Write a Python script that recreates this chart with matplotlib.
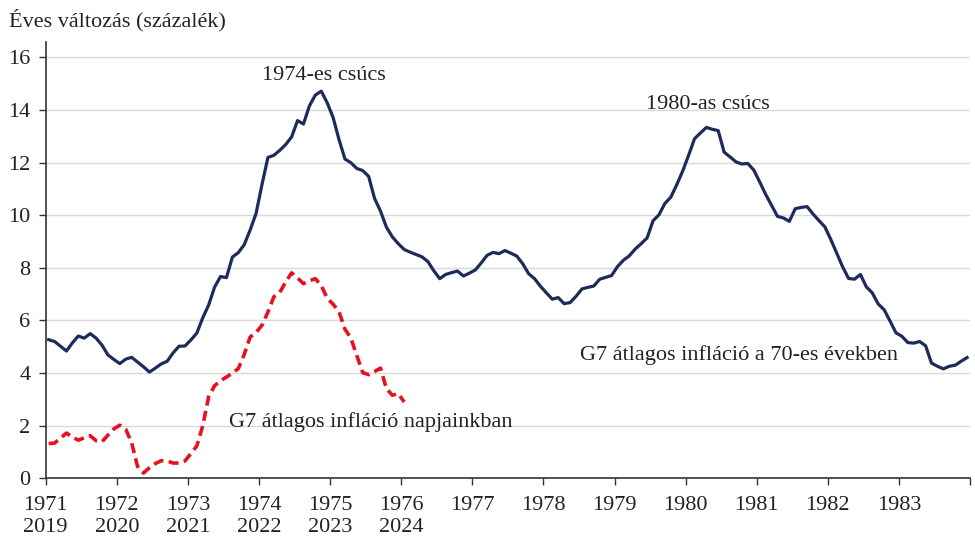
import numpy as np
import matplotlib
matplotlib.use("Agg")
import matplotlib.pyplot as plt

# ---- data (monthly, annual % change) ----
g7_70s = [5.27, 5.20, 5.02, 4.84, 5.15, 5.41, 5.33, 5.50, 5.33, 5.06, 4.69, 4.52,
          4.36, 4.53, 4.60, 4.42, 4.24, 4.04, 4.19, 4.35, 4.45, 4.77, 5.02, 5.03,
          5.26, 5.52, 6.10, 6.59, 7.27, 7.67, 7.63, 8.41, 8.58, 8.88, 9.44, 10.07,
          11.17, 12.20, 12.28, 12.47, 12.69, 12.98, 13.60, 13.47, 14.16, 14.57, 14.72, 14.28,
          13.72, 12.88, 12.14, 12.00, 11.78, 11.70, 11.48, 10.64, 10.16, 9.55, 9.18, 8.92,
          8.70, 8.60, 8.51, 8.42, 8.24, 7.89, 7.59, 7.75, 7.82, 7.88, 7.69, 7.80,
          7.92, 8.19, 8.48, 8.59, 8.54, 8.66, 8.56, 8.45, 8.16, 7.78, 7.59, 7.30,
          7.05, 6.81, 6.87, 6.64, 6.68, 6.92, 7.20, 7.26, 7.31, 7.57, 7.64, 7.71,
          8.05, 8.29, 8.46, 8.72, 8.92, 9.14, 9.79, 10.02, 10.45, 10.69, 11.16, 11.68,
          12.28, 12.91, 13.13, 13.34, 13.27, 13.22, 12.40, 12.22, 12.03, 11.95, 11.97, 11.72,
          11.27, 10.80, 10.38, 9.96, 9.90, 9.77, 10.25, 10.30, 10.33, 10.05, 9.80, 9.56,
          9.08, 8.56, 8.04, 7.60, 7.57, 7.75, 7.28, 7.05, 6.63, 6.41, 5.98, 5.53,
          5.40, 5.16, 5.14, 5.20, 5.04, 4.38, 4.26, 4.16, 4.26, 4.30, 4.45, 4.59]

g7_now = [1.32, 1.34, 1.53, 1.72, 1.57, 1.45, 1.54, 1.62, 1.43, 1.39, 1.64, 1.88,
          2.02, 1.87, 1.35, 0.45, 0.20, 0.40, 0.56, 0.67, 0.66, 0.58, 0.58, 0.66,
          0.94, 1.23, 2.00, 3.10, 3.52, 3.71, 3.85, 4.00, 4.17, 4.71, 5.37, 5.54,
          5.82, 6.32, 6.90, 7.07, 7.46, 7.81, 7.62, 7.40, 7.51, 7.59, 7.33, 6.85,
          6.62, 6.33, 5.67, 5.33, 4.67, 4.02, 3.94, 4.06, 4.19, 3.41, 3.16, 3.22,
          2.90]

years_70s = list(range(1971, 1985))
years_now = ["2019", "2020", "2021", "2022", "2023", "2024"]
yticks = [0, 2, 4, 6, 8, 10, 12, 14, 16]

ylabel = "Éves változás (százalék)"
lbl_peak74 = "1974-es csúcs"
lbl_peak80 = "1980-as csúcs"
lbl_70s = "G7 átlagos infláció a 70-es években"
lbl_now = "G7 átlagos infláció napjainkban"

# ---- figure ----
plt.rcParams['font.family'] = ['Liberation Serif', 'DejaVu Serif']
FS = 16
fig = plt.figure(figsize=(9.75, 5.41), dpi=100)
ax = fig.add_axes([0.0469, 0.1159, 0.9480, 0.8070])

x70 = 1971 + (np.arange(len(g7_70s)) + 0.5) / 12
xnow = 1971 + (np.arange(len(g7_now)) + 0.5) / 12

navy = "#1d2b5b"
red = "#e5121f"
ax.plot(x70, g7_70s, color=navy, lw=2.3, zorder=3)
ax.plot(xnow, g7_now, color=red, lw=2.6, dashes=(2.8, 1.5), zorder=3)

ax.set_xlim(1971, 1984)
ax.set_ylim(0, 16.6)

xt_labels = []
for i, y in enumerate(years_70s):
    if y == 1984:
        xt_labels.append("")
    elif i < len(years_now):
        xt_labels.append(f"{y}\n{years_now[i]}")
    else:
        xt_labels.append(f"{y}")
ax.set_xticks(years_70s)
ax.set_xticklabels(xt_labels, linespacing=1.2)
ax.set_yticks(yticks)

for s in ["top", "right"]:
    ax.spines[s].set_visible(False)
for s in ["left", "bottom"]:
    ax.spines[s].set_color("#333333")
    ax.spines[s].set_linewidth(1.2)

ax.tick_params(axis="both", direction="out", length=5, width=1.0, color="#333333",
               labelsize=FS, labelcolor="#222222")
ax.tick_params(axis="y", pad=6)
ax.tick_params(axis="x", pad=8)

ax.grid(axis="y", color="#d9d9d9", lw=1.0)
ax.set_axisbelow(True)

tk = dict(fontsize=FS, color="#222222", va="center", ha="left")
ax.text(1974.04, 15.3, lbl_peak74, **tk)
ax.text(1979.44, 14.2, lbl_peak80, **tk)
ax.text(1978.51, 4.68, lbl_70s, **tk)
ax.text(1973.58, 2.13, lbl_now, **tk)

fig.text(9 / 975, 1 - 20 / 541, ylabel, fontsize=FS, color="#222222",
         ha="left", va="center")

fig.savefig("out.png", dpi=100)
